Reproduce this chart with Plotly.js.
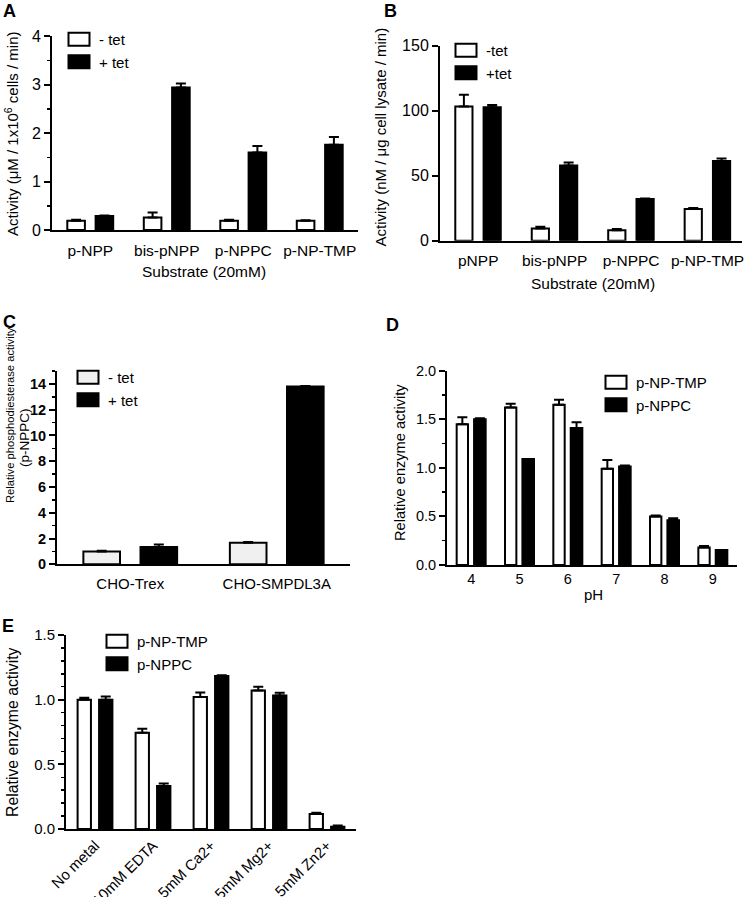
<!DOCTYPE html>
<html><head><meta charset="utf-8">
<script src="https://cdn.plot.ly/plotly-3.0.1.min.js"></script>
<style>html,body{margin:0;padding:0;background:#fff}#chart{width:745px;height:897px}</style>
</head><body><div id="chart"></div>
<script>
// ---------- Panel A ----------
const substratesA = ['p-NPP', 'bis-pNPP', 'p-NPPC', 'p-NP-TMP'];
const aMinusTet = [0.19, 0.26, 0.19, 0.19];
const aMinusTetErr = [0.02, 0.10, 0.02, 0.01];
const aPlusTet = [0.29, 2.94, 1.60, 1.76];
const aPlusTetErr = [0.01, 0.08, 0.13, 0.16];
// ---------- Panel B ----------
const substratesB = ['pNPP', 'bis-pNPP', 'p-NPPC', 'p-NP-TMP'];
const bMinusTet = [103.3, 9.3, 8.0, 24.4];
const bMinusTetErr = [9.0, 1.5, 1.0, 0.8];
const bPlusTet = [102.6, 57.8, 32.1, 61.4];
const bPlusTetErr = [1.8, 2.4, 0.4, 1.8];
// ---------- Panel C ----------
const cellLinesC = ['CHO-Trex', 'CHO-SMPDL3A'];
const cMinusTet = [1.0, 1.68];
const cMinusTetErr = [0.05, 0.06];
const cPlusTet = [1.34, 13.79];
const cPlusTetErr = [0.2, 0.05];
const cTickVals = [0, 2, 4, 6, 8, 10, 12, 14];
// ---------- Panel D ----------
const pHD = ['4', '5', '6', '7', '8', '9'];
const dTMP = [1.45, 1.62, 1.65, 0.99, 0.50, 0.18];
const dTMPErr = [0.07, 0.04, 0.05, 0.09, 0.01, 0.015];
const dNPPC = [1.50, 1.09, 1.41, 1.015, 0.46, 0.155];
const dNPPCErr = [0.01, 0.0, 0.06, 0.01, 0.02, 0.0];
// ---------- Panel E ----------
const conditionsE = ['No metal', '10mM EDTA', '5mM Ca2+', '5mM Mg2+', '5mM Zn2+'];
const eTMP = [1.0, 0.745, 1.02, 1.07, 0.116];
const eTMPErr = [0.015, 0.03, 0.035, 0.03, 0.01];
const eNPPC = [1.0, 0.332, 1.183, 1.033, 0.018];
const eNPPCErr = [0.025, 0.02, 0.005, 0.02, 0.01];

const FONT = 'Arial, "Liberation Sans", sans-serif';
const W = 745, H = 897;
const px = v => v / W;
const py = v => 1 - v / H;

function bar(x, y, err, name, fill, n, legend, offset, width) {
  return {
    type: 'bar', x: x, y: y, name: name, xaxis: 'x' + n, yaxis: 'y' + n, legend: legend,
    offset: offset, width: width, hoverinfo: 'skip',
    marker: {color: fill, line: {color: '#000', width: 2}},
    error_y: {type: 'data', symmetric: false, array: err, arrayminus: err.map(() => 0),
              color: '#000', thickness: 2, width: 5}
  };
}

const data = [
  bar(substratesA, aMinusTet, aMinusTetErr, '- tet', '#fff', '', 'legend', -0.30, 0.23),
  bar(substratesA, aPlusTet, aPlusTetErr, '+ tet', '#000', '', 'legend', 0.07, 0.23),
  bar(substratesB, bMinusTet, bMinusTetErr, '-tet', '#fff', '2', 'legend2', -0.30, 0.225),
  bar(substratesB, bPlusTet, bPlusTetErr, '+tet', '#000', '2', 'legend2', 0.07, 0.225),
  bar(cellLinesC, cMinusTet, cMinusTetErr, '- tet', '#f0f0f0', '3', 'legend3', -0.32, 0.25),
  bar(cellLinesC, cPlusTet, cPlusTetErr, '+ tet', '#000', '3', 'legend3', 0.07, 0.25),
  bar(pHD, dTMP, dTMPErr, 'p-NP-TMP', '#fff', '4', 'legend4', -0.30, 0.235),
  bar(pHD, dNPPC, dNPPCErr, 'p-NPPC', '#000', '4', 'legend4', 0.06, 0.24),
  bar(conditionsE, eTMP, eTMPErr, 'p-NP-TMP', '#fff', '5', 'legend5', -0.30, 0.23),
  bar(conditionsE, eNPPC, eNPPCErr, 'p-NPPC', '#000', '5', 'legend5', 0.07, 0.23)
];

function xax(domain, range, anchor, fs, extra) {
  return Object.assign({
    type: 'category', domain: domain, range: range, anchor: anchor,
    showline: true, linecolor: '#000', linewidth: 2, showgrid: false, zeroline: false,
    ticks: '', ticklabelstandoff: 5, tickfont: {family: FONT, size: fs, color: '#000'},
    fixedrange: true
  }, extra || {});
}
function yax(domain, range, anchor, dtick, minor, fs, extra) {
  const o = {
    domain: domain, range: range, anchor: anchor, dtick: dtick, tick0: 0,
    showline: true, linecolor: '#000', linewidth: 2, showgrid: false, zeroline: false,
    ticks: 'outside', ticklen: 6, tickwidth: 2, tickcolor: '#000',
    tickfont: {family: FONT, size: fs, color: '#000'}, fixedrange: true
  };
  if (minor) o.minor = {dtick: minor, tick0: 0, ticks: 'outside', ticklen: 3, tickwidth: 1.5, tickcolor: '#000', showgrid: false};
  return Object.assign(o, extra || {});
}
function leg(x, y, fs) {
  return {x: x, y: y, xanchor: 'left', yanchor: 'top', bgcolor: 'rgba(0,0,0,0)',
          font: {family: FONT, size: fs, color: '#000'}, tracegroupgap: 0, itemclick: false};
}
function note(text, x, y, fs, angle) {
  return {text: text, xref: 'paper', yref: 'paper', x: x, y: y, xanchor: 'center', yanchor: 'middle',
          showarrow: false, textangle: angle || 0,
          font: {family: FONT, size: fs, color: '#000'}};
}
function label(text, x, y) {
  return {text: '<b>' + text + '</b>', xref: 'paper', yref: 'paper', x: x, y: y, xanchor: 'left', yanchor: 'middle',
          showarrow: false, font: {family: FONT, size: 18, color: '#000'}};
}

const layout = {
  width: W, height: H, margin: {l: 0, r: 0, t: 0, b: 0},
  paper_bgcolor: '#fff', plot_bgcolor: 'rgba(0,0,0,0)',
  barmode: 'overlay', showlegend: true, font: {family: FONT, color: '#000'},
  xaxis: xax([px(52), px(358)], [-0.5, 3.5], 'y', 15.5),
  yaxis: yax([py(230), py(36)], [0, 4], 'x', 1, 0.5, 16),
  xaxis2: xax([px(440), px(742)], [-0.5, 3.45], 'y2', 15.5),
  yaxis2: yax([py(240.7), py(45.7)], [0, 150], 'x2', 50, null, 16),
  xaxis3: xax([px(57), px(350)], [-0.5, 1.5], 'y3', 15),
  yaxis3: yax([py(564.3), py(371)], [0, 15], 'x3', 2, 1, 14.5,
              {tickmode: 'array', tickvals: cTickVals, ticktext: cTickVals.map(v => '<b>' + v + '</b>')}),
  xaxis4: xax([px(447), px(737)], [-0.5, 5.5], 'y4', 14.5, {ticklabelstandoff: 0}),
  yaxis4: yax([py(565), py(370.7)], [0, 2], 'x4', 0.5, 0.25, 14.5, {tickformat: '.1f'}),
  xaxis5: xax([px(66), px(356)], [-0.5, 4.5], 'y5', 15, {tickangle: -45, ticklabelstandoff: 0}),
  yaxis5: yax([py(829), py(635)], [0, 1.5], 'x5', 0.5, 0.1, 15, {tickformat: '.1f'}),
  legend: leg(px(59), py(23), 15),
  legend2: leg(px(446), py(34), 15),
  legend3: leg(px(68), py(361), 15),
  legend4: leg(px(596), py(366), 15),
  legend5: leg(px(97), py(625), 15),
  annotations: [
    label('A', px(1), py(11)),
    label('B', px(382), py(11)),
    label('C', px(1), py(322)),
    label('D', px(384), py(325)),
    label('E', px(0), py(626)),
    note('Activity (μM / 1x10<sup>6</sup> cells / min)', px(11), py(134), 15, -90),
    note('Substrate (20mM)', px(204), py(272), 15.5),
    note('Activity (nM / μg cell lysate / min)', px(380), py(137.5), 15, -90),
    note('Substrate (20mM)', px(593), py(283), 15.5),
    note('Relative phosphodiesterase activity', px(10), py(415), 11.2, -90),
    note('(p-NPPC)', px(24), py(438), 13.5, -90),
    note('Relative enzyme activity', px(400), py(463), 14.6, -90),
    note('pH', px(593), py(594), 15),
    note('Relative enzyme activity', px(12), py(732), 15.8, -90)
  ]
};

Plotly.newPlot('chart', data, layout, {staticPlot: true, displayModeBar: false}).then(function () {
  document.querySelectorAll('g.legendpoints path').forEach(function (p) {
    const t = p.getAttribute('transform') || '';
    p.setAttribute('transform', t + ' scale(1.75,1.08)');
    p.style.vectorEffect = 'non-scaling-stroke';
  });
});
</script>
</body></html>
